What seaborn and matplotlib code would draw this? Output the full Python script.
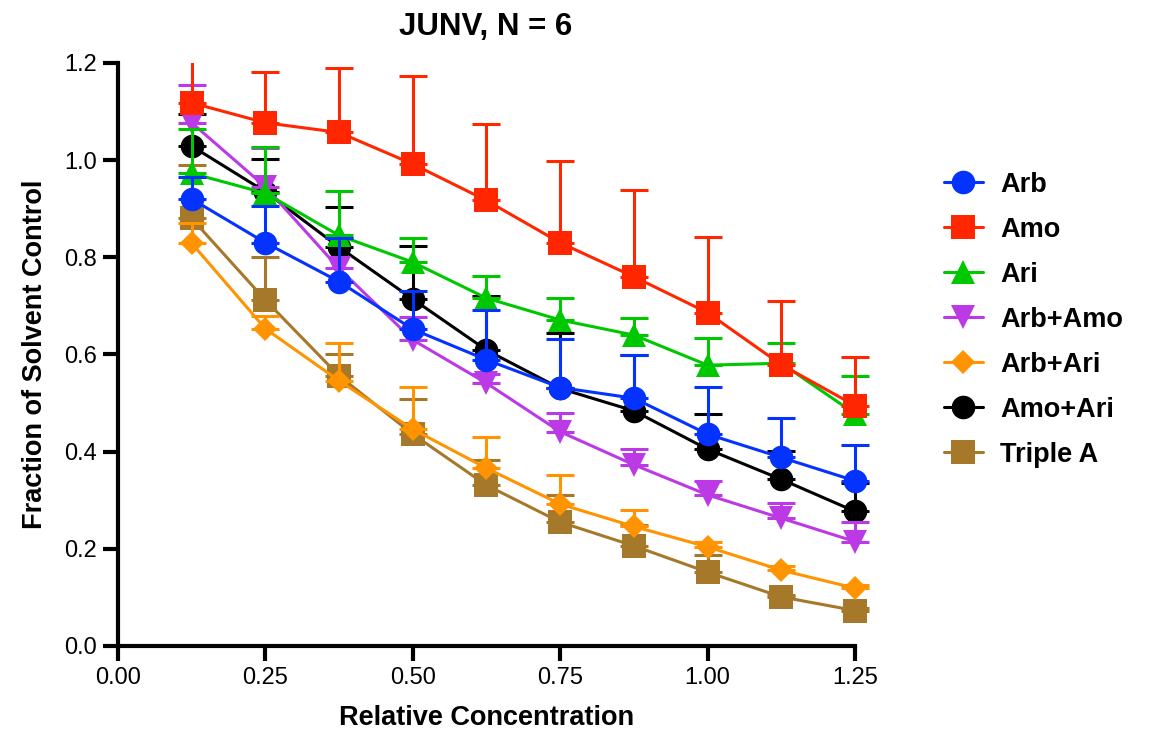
import numpy as np
import pandas as pd
import matplotlib
matplotlib.use("Agg")
import matplotlib.pyplot as plt
import seaborn as sns
from matplotlib.lines import Line2D

# relative concentration steps
conc = [0.125, 0.25, 0.375, 0.5, 0.625, 0.75, 0.875, 1.0, 1.125, 1.25]

# mean fraction of solvent control
arb = [0.92, 0.83, 0.75, 0.652, 0.589, 0.532, 0.510, 0.436, 0.388, 0.340]
amo = [1.118, 1.077, 1.057, 0.992, 0.917, 0.830, 0.760, 0.686, 0.579, 0.495]
ari = [0.973, 0.932, 0.845, 0.790, 0.716, 0.671, 0.640, 0.578, 0.582, 0.478]
arb_amo = [1.077, 0.945, 0.777, 0.630, 0.541, 0.441, 0.373, 0.311, 0.263, 0.215]
arb_ari = [0.829, 0.653, 0.546, 0.446, 0.366, 0.292, 0.246, 0.204, 0.156, 0.119]
amo_ari = [1.029, 0.935, 0.821, 0.714, 0.609, 0.530, 0.484, 0.405, 0.343, 0.277]
triple = [0.880, 0.712, 0.556, 0.436, 0.331, 0.255, 0.206, 0.152, 0.101, 0.073]

# upper error bar tops (mean + SD)
arb_top = [0.965, 0.906, 0.840, 0.731, 0.691, 0.631, 0.598, 0.533, 0.469, 0.414]
amo_top = [1.26, 1.181, 1.19, 1.174, 1.075, 0.999, 0.938, 0.841, 0.710, 0.594]
ari_top = [1.064, 1.027, 0.936, 0.839, 0.761, 0.717, 0.676, 0.633, 0.624, 0.556]
arb_amo_top = [1.155, 1.024, 0.840, 0.678, 0.560, 0.479, 0.405, 0.340, 0.294, 0.256]
arb_ari_top = [0.870, 0.680, 0.624, 0.533, 0.431, 0.352, 0.279, 0.215, 0.165, 0.125]
amo_ari_top = [1.094, 1.002, 0.903, 0.824, 0.721, 0.645, 0.598, 0.478, 0.402, 0.335]
triple_top = [0.991, 0.801, 0.600, 0.508, 0.383, 0.311, 0.249, 0.187, 0.105, 0.078]

names = ["Arb", "Amo", "Ari", "Arb+Amo", "Arb+Ari", "Amo+Ari", "Triple A"]
means = [arb, amo, ari, arb_amo, arb_ari, amo_ari, triple]
tops = [arb_top, amo_top, ari_top, arb_amo_top, arb_ari_top, amo_ari_top, triple_top]
colors = ["#0433FF", "#FF2600", "#00C800", "#BB3AE6", "#FF9300", "#000000", "#A6792A"]
markers = ["o", "s", "^", "v", "D", "o", "s"]
msizes = [17, 17, 17, 17, 12, 17, 17]

sns.set_style("white")
plt.rcParams['font.family'] = ['Liberation Sans', 'DejaVu Sans']
plt.rcParams['text.color'] = 'black'
plt.rcParams['axes.labelcolor'] = 'black'
plt.rcParams['xtick.color'] = 'black'
plt.rcParams['ytick.color'] = 'black'

fig = plt.figure(figsize=(11.51, 7.35), dpi=100)
# x range runs a bit past 1.25 so the last markers are not cut off
ax = fig.add_axes([0.1025, 0.1211, 0.6762, 0.7932])

# GraphPad draws the last data set first, so go in reverse
for i in reversed(range(len(names))):
    m = np.array(means[i])
    t = np.array(tops[i])
    ax.errorbar(conc, m, yerr=[np.zeros_like(m), t - m], fmt="none",
                ecolor=colors[i], elinewidth=2.2, capsize=10, capthick=2.2)
    sns.lineplot(x=conc, y=means[i], ax=ax, color=colors[i], marker=markers[i],
                 markersize=msizes[i], markeredgewidth=0, linewidth=2.2,
                 legend=False)

ax.set_xlim(0, 1.32)
ax.set_ylim(0, 1.2)
ax.set_xticks([0, 0.25, 0.5, 0.75, 1.0, 1.25])
ax.set_xticklabels(["0.00", "0.25", "0.50", "0.75", "1.00", "1.25"])
ax.set_yticks([0, 0.2, 0.4, 0.6, 0.8, 1.0, 1.2])
ax.set_yticklabels(["0.0", "0.2", "0.4", "0.6", "0.8", "1.0", "1.2"])

for s in ["top", "right"]:
    ax.spines[s].set_visible(False)
for s in ["left", "bottom"]:
    ax.spines[s].set_linewidth(3)
    ax.spines[s].set_color("black")
    ax.spines[s].set_capstyle("projecting")
ax.spines["bottom"].set_bounds(0, 1.25)
ax.tick_params(direction="out", length=11, width=3, labelsize=17, pad=4,
               bottom=True, left=True, color="black")

ax.set_xlabel("Relative Concentration", fontsize=19.5, fontweight="bold",
              labelpad=12, x=0.4735)
ax.set_ylabel("Fraction of Solvent Control", fontsize=19.5, fontweight="bold", labelpad=12)
ax.set_title("JUNV, N = 6", fontsize=22.5, fontweight="bold", pad=20, x=0.472)

handles = [Line2D([0], [0], color=colors[i], marker=markers[i],
                  markersize=msizes[i], markeredgewidth=0, linewidth=2.2)
           for i in range(len(names))]
leg = fig.legend(handles, names, loc="center left", bbox_to_anchor=(0.808, 0.565),
                 frameon=False, prop={"size": 19.5, "weight": "bold"},
                 handlelength=1.45, handletextpad=0.65, labelspacing=0.7,
                 borderpad=0)

fig.savefig("out.png", dpi=100)
